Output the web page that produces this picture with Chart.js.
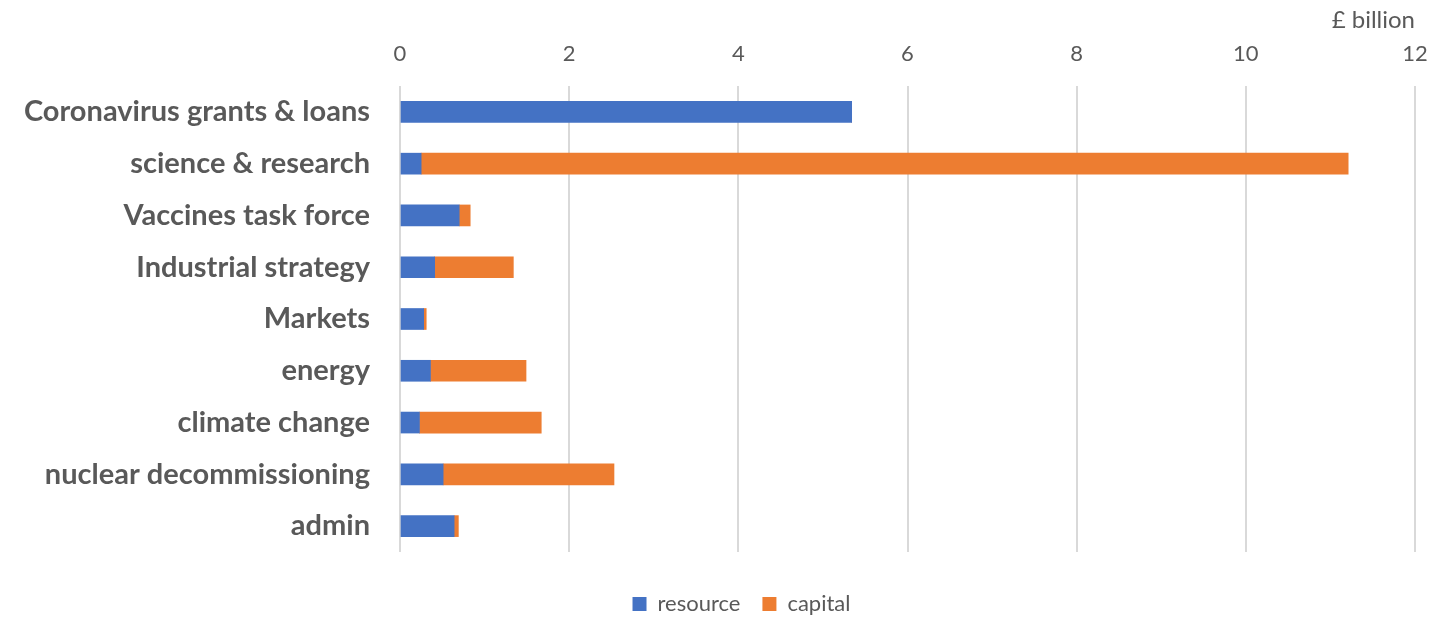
<!DOCTYPE html>
<html>
<head>
<meta charset="utf-8">
<script src="https://cdn.jsdelivr.net/npm/chart.js@4/dist/chart.umd.min.js"></script>
<style>
html,body{margin:0;padding:0;background:#fff;}
#wrap{width:1439px;height:618px;position:relative;}
</style>
</head>
<body>
<div id="wrap"><canvas id="c" width="1439" height="618"></canvas></div>
<script>
const categories = ["Coronavirus grants & loans","science & research","Vaccines task force","Industrial strategy","Markets","energy","climate change","nuclear decommissioning","admin"];
const resource = [5.34, 0.25, 0.70, 0.41, 0.28, 0.36, 0.23, 0.51, 0.64];
const capital  = [0.00, 10.96, 0.13, 0.93, 0.03, 1.13, 1.44, 2.02, 0.05];
const xTicks = [0, 2, 4, 6, 8, 10, 12];
const unitLabel = "£ billion";

const FONT = "Lato, 'Open Sans', sans-serif";

const legendShift = {
  id: 'legendShift',
  afterLayout(chart) {
    if (chart.legend) { chart.legend.left += 68; }
  }
};

new Chart(document.getElementById('c'), {
  type: 'bar',
  data: {
    labels: categories,
    datasets: [
      {label: 'resource', data: resource, backgroundColor: '#4472C4', barThickness: 21},
      {label: 'capital', data: capital, backgroundColor: '#ED7D31', barThickness: 21}
    ]
  },
  options: {
    indexAxis: 'y',
    responsive: false,
    animation: false,
    layout: {padding: {left: 0, right: 24, top: 6, bottom: -7}},
    scales: {
      x: {
        position: 'top',
        stacked: true,
        min: xTicks[0], max: xTicks[xTicks.length-1],
        afterBuildTicks: s => { s.ticks = xTicks.map(v => ({value: v})); },
        grid: {color: '#d9d9d9', lineWidth: 2, drawTicks: false},
        border: {display: false},
        ticks: {color: '#595959', font: {family: FONT, size: 22}, padding: 19},
        title: {display: true, text: unitLabel, align: 'end', color: '#595959', font: {family: FONT, size: 24}, padding: {top: 0, bottom: 0}},
        afterFit: s => { s.height = 80; s.paddingRight = 0; s.paddingLeft = 0; }
      },
      y: {
        stacked: true,
        grid: {display: false, drawTicks: false},
        border: {display: false},
        ticks: {color: '#595959', font: {family: FONT, size: 29, weight: 'bold'}, padding: 30},
        afterFit: s => { s.width = 400; }
      }
    },
    plugins: {
      legend: {
        position: 'bottom',
        title: {display: true, text: ' ', font: {size: 10}, padding: {top: 0, bottom: 7}},
        labels: {color: '#595959', font: {family: FONT, size: 22}, boxWidth: 14, boxHeight: 14, padding: 22}
      },
      tooltip: {enabled: false}
    }
  },
  plugins: [legendShift]
});
</script>
</body>
</html>
